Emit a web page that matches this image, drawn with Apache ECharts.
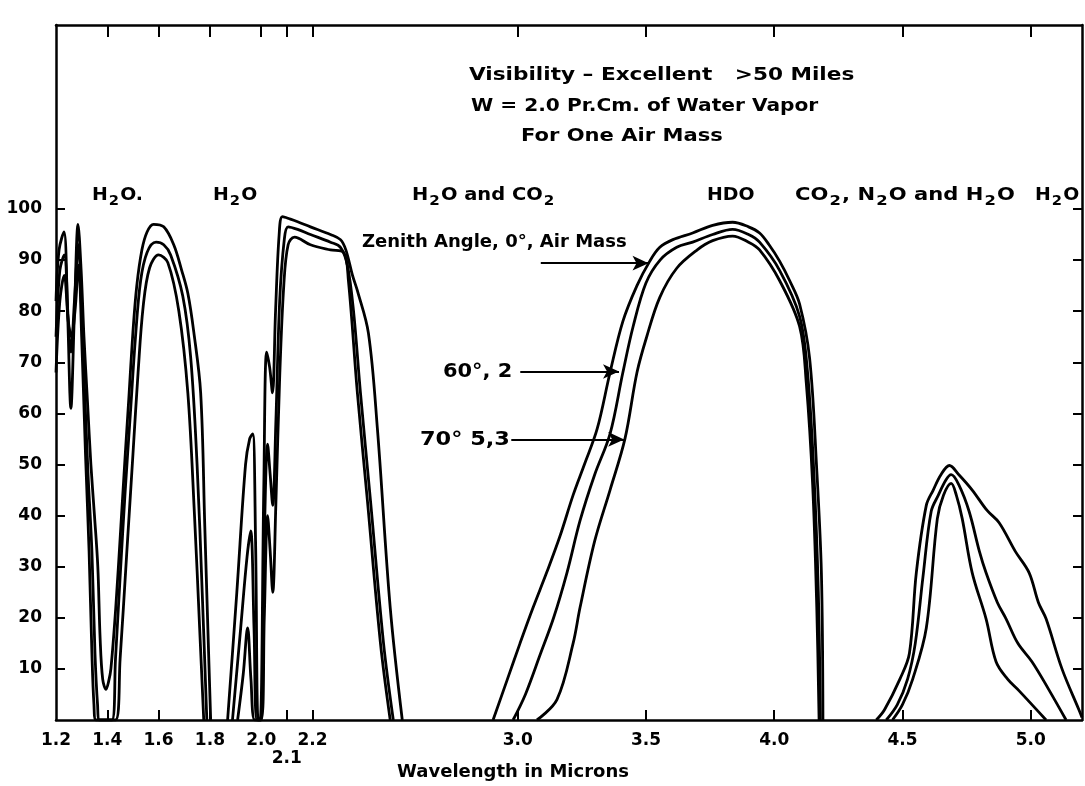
<!DOCTYPE html>
<html>
<head>
<meta charset="utf-8">
<script src="https://cdn.jsdelivr.net/npm/echarts@6/dist/echarts.min.js"></script>
<style>
  html, body { margin: 0; padding: 0; background: #fff; }
  #main { width: 1085px; height: 786px; }
</style>
</head>
<body>
<div id="main"></div>
<script>
// tick positions and labels (microns / percent)
var xTickValues = [1.4, 1.6, 1.8, 2.0, 2.1, 2.2, 3.0, 3.5, 4.0, 4.5, 5.0];
var xLabelValues = [1.2, 1.4, 1.6, 1.8, 2.0, 2.1, 2.2, 3.0, 3.5, 4.0, 4.5, 5.0];
var yTickValues = [10, 20, 30, 40, 50, 60, 70, 80, 90, 100];

// transmission, zenith angle 0 deg, air mass 1  [micron, percent]
var zenith0 = [
  [1.200, 82], [1.212, 92], [1.231, 95.5], [1.245, 80], [1.258, 61], [1.272, 80], [1.286, 97], [1.298, 88],
  [1.309, 75], [1.323, 62], [1.336, 50], [1.350, 40], [1.363, 30], [1.372, 16], [1.382, 8], [1.395, 6],
  [1.405, 7.5], [1.414, 10], [1.433, 22], [1.453, 38], [1.470, 52], [1.484, 63], [1.500, 76], [1.515, 85],
  [1.535, 92], [1.555, 95.5], [1.580, 97], [1.620, 96.5], [1.659, 93], [1.690, 88], [1.714, 83.5], [1.737, 76],
  [1.764, 64], [1.780, 38], [1.792, 18], [1.803, 0],
  [1.850, null],
  [1.869, 0], [1.905, 25], [1.939, 50], [1.955, 55], [1.967, 56], [1.978, 35], [1.988, 0], [1.996, 0],
  [2.010, 45], [2.021, 72], [2.033, 69], [2.044, 64], [2.056, 80], [2.070, 95], [2.083, 98.5], [2.114, 98],
  [2.142, 97.5], [2.192, 96.5], [2.270, 95], [2.309, 94], [2.330, 92], [2.356, 87], [2.375, 84], [2.418, 75.7],
  [2.453, 57], [2.503, 22], [2.550, 0],
  [2.700, null],
  [2.904, 0], [2.960, 8], [3.009, 15], [3.060, 22], [3.114, 29], [3.165, 36], [3.216, 44], [3.260, 50],
  [3.310, 57], [3.360, 68], [3.410, 78], [3.465, 85], [3.515, 89.8], [3.554, 92.5], [3.605, 94], [3.682, 95.3],
  [3.760, 96.8], [3.838, 97.4], [3.900, 96.5], [3.943, 95.3], [3.980, 93], [4.021, 89.8], [4.060, 86], [4.099, 81.4],
  [4.138, 70.8], [4.165, 49.8], [4.184, 28.8], [4.190, 0],
  [4.300, null],
  [4.398, 0], [4.430, 2], [4.490, 8], [4.527, 13], [4.554, 28.8], [4.593, 42], [4.620, 45], [4.650, 48],
  [4.683, 49.8], [4.720, 48], [4.772, 45], [4.830, 41], [4.877, 38.6], [4.940, 33], [4.994, 28.8], [5.030, 23],
  [5.060, 19.8], [5.122, 10], [5.188, 2], [5.200, 0.5]
];

// zenith angle 60 deg, air mass 2
var zenith60 = [
  [1.200, 75], [1.215, 88], [1.232, 91], [1.248, 78], [1.258, 72], [1.272, 82], [1.287, 93], [1.300, 80],
  [1.312, 64], [1.325, 48], [1.340, 33], [1.352, 13], [1.362, 3], [1.370, 0], [1.418, 0], [1.432, 12],
  [1.450, 28], [1.470, 45], [1.490, 60], [1.510, 75], [1.530, 86], [1.555, 91.5], [1.590, 93.5], [1.620, 93],
  [1.647, 91], [1.694, 83], [1.725, 71], [1.750, 50], [1.770, 25], [1.788, 0],
  [1.850, null],
  [1.888, 0], [1.920, 18], [1.945, 32], [1.959, 37], [1.972, 18], [1.983, 0], [1.998, 0], [2.012, 35],
  [2.025, 54], [2.035, 48], [2.045, 42], [2.057, 58], [2.072, 82], [2.090, 94], [2.105, 96.5], [2.142, 96],
  [2.192, 95], [2.270, 93.5], [2.309, 92.5], [2.336, 89], [2.360, 80], [2.387, 64], [2.426, 43], [2.477, 15],
  [2.515, 0],
  [2.700, null],
  [2.982, 0], [3.030, 5], [3.087, 12.7], [3.140, 20], [3.192, 28.8], [3.243, 39], [3.300, 48], [3.360, 56],
  [3.410, 68], [3.450, 77], [3.500, 85.5], [3.555, 90], [3.620, 92.5], [3.682, 93.5], [3.760, 95], [3.838, 96],
  [3.900, 95], [3.943, 93.5], [4.021, 88], [4.099, 79], [4.130, 68], [4.155, 48], [4.172, 25], [4.180, 0],
  [4.300, null],
  [4.437, 0], [4.480, 3], [4.520, 8], [4.550, 15], [4.580, 28], [4.612, 40.8], [4.640, 44], [4.670, 47],
  [4.690, 48], [4.720, 46], [4.760, 40.8], [4.800, 33], [4.826, 28.8], [4.870, 23], [4.904, 19.8], [4.950, 15],
  [5.005, 11.4], [5.070, 6], [5.138, 0]
];

// zenith angle 70 deg, air mass 3
var zenith70 = [
  [1.200, 68], [1.215, 82], [1.232, 87], [1.248, 78], [1.260, 75], [1.274, 80], [1.288, 89], [1.300, 75],
  [1.315, 52], [1.329, 33], [1.340, 13], [1.348, 3], [1.356, 0], [1.432, 0], [1.450, 12], [1.475, 32],
  [1.500, 52], [1.520, 68], [1.540, 81], [1.565, 88.5], [1.600, 91], [1.636, 89.5], [1.679, 80], [1.714, 64],
  [1.740, 40], [1.760, 18], [1.776, 0],
  [1.850, null],
  [1.908, 0], [1.930, 9], [1.947, 18], [1.960, 8], [1.975, 0], [2.000, 0], [2.012, 20], [2.025, 40],
  [2.035, 33], [2.045, 25], [2.057, 42], [2.072, 67], [2.088, 85], [2.105, 93], [2.130, 94.5], [2.192, 93],
  [2.270, 92], [2.321, 91.5], [2.340, 86], [2.375, 64], [2.414, 43], [2.465, 15], [2.503, 0],
  [2.700, null],
  [3.075, 0], [3.153, 4], [3.216, 15], [3.243, 22], [3.300, 35], [3.360, 45], [3.418, 55], [3.465, 68],
  [3.503, 75], [3.554, 82.7], [3.620, 88.4], [3.700, 92], [3.760, 93.8], [3.838, 94.7], [3.900, 93.5], [3.943, 92],
  [4.021, 86], [4.099, 77], [4.125, 66], [4.150, 46], [4.166, 22], [4.175, 0],
  [4.300, null],
  [4.461, 0], [4.500, 3], [4.540, 8], [4.593, 18], [4.636, 39.4], [4.660, 44], [4.690, 46.3], [4.710, 44],
  [4.733, 39.4], [4.772, 28.8], [4.826, 19.8], [4.865, 11.4], [4.910, 8], [4.955, 5.7], [5.060, 0]
];

// arrows pointing at the three curves: [x start, x end, y]
var arrowZenith0 = [3.09, 3.51, 89.4];
var arrowZenith60 = [3.01, 3.395, 68.2];
var arrowZenith70 = [2.975, 3.415, 54.9];

var FONT = 'DejaVu Sans';
var black = '#000';

var myChart = echarts.init(document.getElementById('main'), null, { renderer: 'canvas' });

function curve(name, data) {
  return {
    name: name,
    type: 'line',
    data: data,
    showSymbol: false,
    symbol: 'none',
    smooth: 0.35,
    connectNulls: false,
    silent: true,
    animation: false,
    lineStyle: { color: black, width: 2.8 }
  };
}

function arrow(a) {
  return [{ coord: [a[0], a[2]] }, { coord: [a[1], a[2]] }];
}

// text with subscripts, written as rich text; sx widens the glyphs a little
function chem(parts, x, y, sx) {
  return {
    type: 'text', x: x, y: y, scaleX: sx || 1.12, silent: true,
    style: {
      text: parts, fill: black, verticalAlign: 'middle',
      font: 'bold 18px "' + FONT + '"',
      rich: {
        n: { fontSize: 18, fontWeight: 'bold', fontFamily: FONT, fill: black },
        s: { fontSize: 14, fontWeight: 'bold', fontFamily: FONT, fill: black, padding: [12, 1, 0, 1] }
      }
    }
  };
}

function plain(text, x, y, size, sx) {
  return {
    type: 'text', x: x, y: y, scaleX: sx || 1, silent: true,
    style: { text: text, fill: black, verticalAlign: 'middle', font: 'bold ' + (size || 18) + 'px "' + FONT + '"' }
  };
}

var axisLineStyle = { color: black, width: 2.5 };

var option = {
  backgroundColor: '#fff',
  animation: false,
  grid: { left: 56, right: 3, top: 25, bottom: 66, containLabel: false, outerBoundsMode: 'none' },
  xAxis: [
    {
      type: 'value', min: 1.2, max: 5.2, position: 'bottom',
      axisLine: { onZero: false, lineStyle: axisLineStyle },
      axisTick: { inside: true, length: 10, customValues: xTickValues, lineStyle: { color: black, width: 2 } },
      axisLabel: {
        customValues: xLabelValues, color: black, fontSize: 17, fontWeight: 'bold', fontFamily: FONT, margin: 12,
        lineHeight: 18,
        formatter: function (v) {
          var s = v.toFixed(1);
          return Math.abs(v - 2.1) < 1e-6 ? '\n' + s : s;
        }
      },
      splitLine: { show: false },
      name: 'Wavelength in Microns', nameLocation: 'middle', nameGap: 43, nameMoveOverlap: false,
      nameTextStyle: { color: black, fontSize: 18, fontWeight: 'bold', fontFamily: FONT, padding: [0, 112, 0, 0] }
    },
    {
      type: 'value', min: 1.2, max: 5.2, position: 'top',
      axisLine: { onZero: false, lineStyle: axisLineStyle },
      axisTick: { inside: true, length: 12, customValues: xTickValues, lineStyle: { color: black, width: 2 } },
      axisLabel: { show: false },
      splitLine: { show: false }
    }
  ],
  yAxis: [
    {
      type: 'value', min: 0, max: 136, position: 'left',
      axisLine: { onZero: false, lineStyle: axisLineStyle },
      axisTick: { inside: true, length: 9, customValues: yTickValues, lineStyle: { color: black, width: 2 } },
      axisLabel: { customValues: yTickValues, color: black, fontSize: 17, fontWeight: 'bold', fontFamily: FONT, margin: 14 },
      splitLine: { show: false }
    },
    {
      type: 'value', min: 0, max: 136, position: 'right',
      axisLine: { onZero: false, lineStyle: axisLineStyle },
      axisTick: { inside: true, length: 9, customValues: yTickValues, lineStyle: { color: black, width: 2 } },
      axisLabel: { show: false },
      splitLine: { show: false }
    }
  ],
  series: [
    Object.assign(curve('0 deg, air mass 1', zenith0), {
      markLine: {
        silent: true, animation: false,
        symbol: ['none', 'arrow'], symbolSize: [11, 16],
        lineStyle: { color: black, width: 2, type: 'solid' },
        label: { show: false },
        data: [arrow(arrowZenith0), arrow(arrowZenith60), arrow(arrowZenith70)]
      }
    }),
    curve('60 deg, air mass 2', zenith60),
    curve('70 deg, air mass 3', zenith70)
  ],
  graphic: [
    plain('Visibility \u2013 Excellent   >50 Miles', 469, 75, 18, 1.2),
    plain('W = 2.0 Pr.Cm. of Water Vapor', 471, 106, 18, 1.12),
    plain('For One Air Mass', 521, 136, 18, 1.17),
    chem('{n|H}{s|2}{n|O.}', 92, 195, 1.05),
    chem('{n|H}{s|2}{n|O}', 213, 195, 1.05),
    chem('{n|H}{s|2}{n|O and CO}{s|2}', 412, 195, 1.08),
    chem('{n|HDO}', 707, 195, 1.05),
    chem('{n|CO}{s|2}{n|, N}{s|2}{n|O and H}{s|2}{n|O}', 795, 195, 1.17),
    chem('{n|H}{s|2}{n|O}', 1035, 195, 1.05),
    plain('Zenith Angle, 0\u00b0, Air Mass', 362, 243, 17, 1.06),
    plain('60\u00b0, 2', 443, 372, 19, 1.1),
    plain('70\u00b0 5,3', 420, 440, 19, 1.18)
  ]
};

myChart.setOption(option);
</script>
</body>
</html>
